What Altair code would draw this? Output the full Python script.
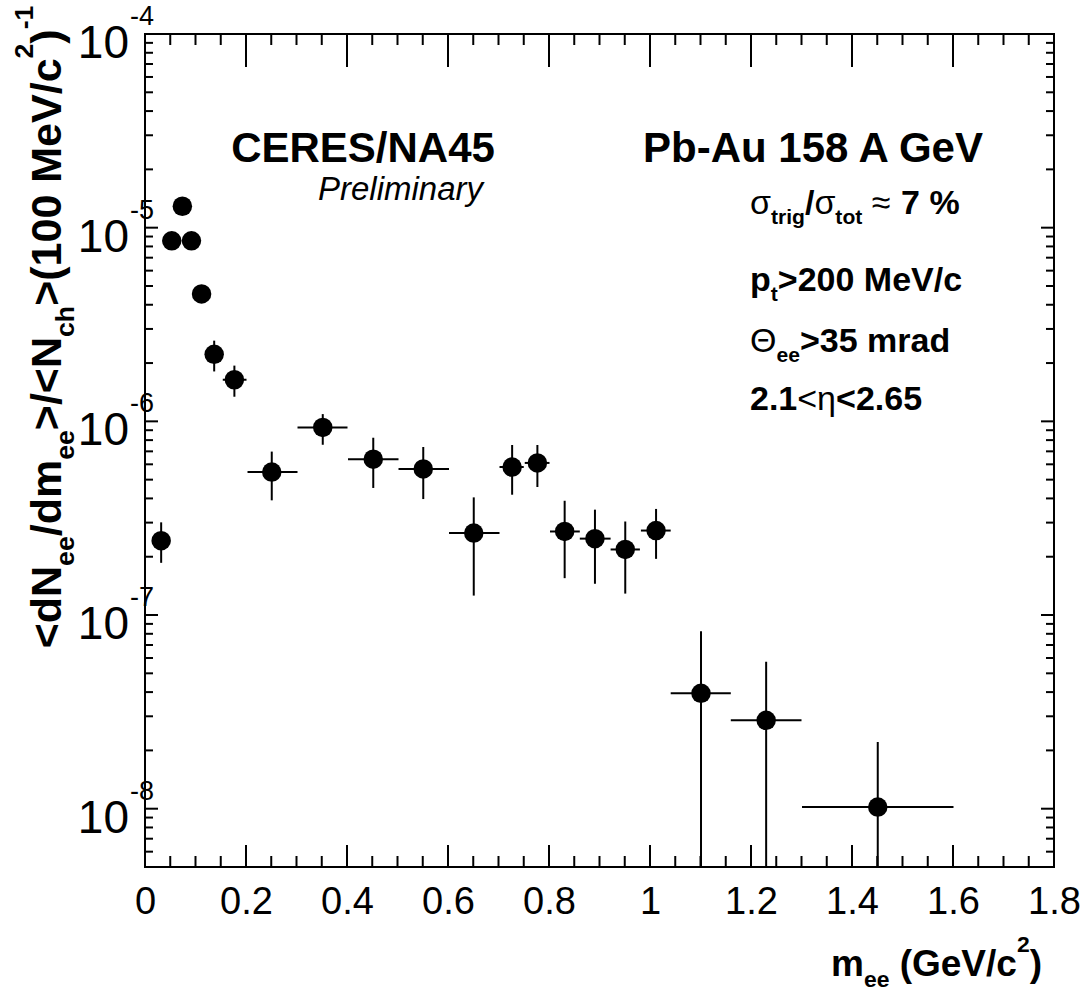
import altair as alt
import pandas as pd

# ---------------- data ----------------
mass = [0.032, 0.053, 0.074, 0.092, 0.112, 0.137, 0.177, 0.251, 0.352, 0.452, 0.551,
        0.651, 0.727, 0.777, 0.831, 0.891, 0.951, 1.012, 1.101, 1.230, 1.451]
mass_lo = [0.022, 0.045, 0.065, 0.084, 0.103, 0.122, 0.154, 0.203, 0.302, 0.402, 0.502,
           0.602, 0.702, 0.752, 0.802, 0.861, 0.922, 0.982, 1.041, 1.160, 1.301]
mass_hi = [0.042, 0.062, 0.083, 0.101, 0.121, 0.152, 0.201, 0.302, 0.401, 0.502, 0.602,
           0.702, 0.750, 0.801, 0.861, 0.922, 0.980, 1.041, 1.160, 1.300, 1.601]
yld = [2.42e-7, 8.55e-6, 1.29e-5, 8.55e-6, 4.55e-6, 2.22e-6, 1.64e-6, 5.47e-7, 9.30e-7,
       6.38e-7, 5.68e-7, 2.65e-7, 5.81e-7, 6.10e-7, 2.70e-7, 2.48e-7, 2.18e-7, 2.73e-7,
       3.94e-8, 2.86e-8, 1.02e-8]
yld_lo = [1.86e-7, 8.2e-6, 1.24e-5, 8.2e-6, 4.35e-6, 1.81e-6, 1.34e-6, 3.91e-7, 7.57e-7,
          4.53e-7, 3.97e-7, 1.26e-7, 4.18e-7, 4.58e-7, 1.55e-7, 1.45e-7, 1.29e-7, 1.95e-7,
          1e-12, 1e-12, 1e-12]
yld_hi = [3.01e-7, 8.9e-6, 1.34e-5, 8.9e-6, 4.75e-6, 2.61e-6, 1.94e-6, 6.98e-7, 1.09e-6,
          8.23e-7, 7.37e-7, 4.05e-7, 7.55e-7, 7.55e-7, 3.89e-7, 3.50e-7, 3.04e-7, 3.53e-7,
          8.24e-8, 5.73e-8, 2.21e-8]

x_major = [0, 0.2, 0.4, 0.6, 0.8, 1.0, 1.2, 1.4, 1.6, 1.8]
x_minor = [round(0.05 * i, 2) for i in range(37) if i % 4 != 0]
y_major = [1e-4, 1e-5, 1e-6, 1e-7, 1e-8]
y_major_exp = ["-4", "-5", "-6", "-7", "-8"]
y_minor = [m * 10.0 ** k for k in range(-9, -4) for m in range(2, 10)
           if 4.99e-9 <= m * 10.0 ** k <= 1e-4]

W, H = 909, 833
FONT = "Liberation Sans"

df = pd.DataFrame({"mass": mass, "mass_lo": mass_lo, "mass_hi": mass_hi,
                   "yld": yld, "yld_lo": yld_lo, "yld_hi": yld_hi})

xs = alt.Scale(domain=[0, 1.8], nice=False, zero=False)
ys = alt.Scale(type="log", domain=[5e-9, 1e-4], nice=False)

base = alt.Chart(df)
xaxis = alt.Axis(values=x_major, format="~g", ticks=False, domain=False, grid=False,
                 labelFontSize=38, labelFont=FONT, labelColor="black", labelPadding=16,
                 labelFlush=False, labelOverlap=False, labelBound=False, title=None)

points = base.mark_circle(size=380, color="black", opacity=1).encode(
    x=alt.X("mass:Q", scale=xs, axis=xaxis),
    y=alt.Y("yld:Q", scale=ys, axis=None),
)
vbars = base.mark_rule(color="black", strokeWidth=2, clip=True).encode(
    x="mass:Q", y="yld_lo:Q", y2="yld_hi:Q")
hbars = base.mark_rule(color="black", strokeWidth=2, clip=True).encode(
    x="mass_lo:Q", x2="mass_hi:Q", y="yld:Q")

# ---------------- ticks (inward, ROOT style) ----------------
dxM = pd.DataFrame({"t": x_major})
dxm = pd.DataFrame({"t": x_minor})
dyM = pd.DataFrame({"t": y_major})
dym = pd.DataFrame({"t": y_minor})

def xt(d, y0, y1):
    return alt.Chart(d).mark_rule(color="black", strokeWidth=2).encode(
        x=alt.X("t:Q", scale=xs), y=alt.value(y0), y2=alt.value(y1))

def yt(d, x0, x1):
    return alt.Chart(d).mark_rule(color="black", strokeWidth=2).encode(
        y=alt.Y("t:Q", scale=ys), x=alt.value(x0), x2=alt.value(x1))

ticks = [xt(dxM, H, H - 22), xt(dxm, H, H - 11), xt(dxM, 0, 33), xt(dxm, 0, 11),
         yt(dyM, 0, 13), yt(dym, 0, 8), yt(dyM, W, W - 13), yt(dym, W, W - 8)]

# ---------------- y tick labels 10^n ----------------
dlab = pd.DataFrame({"t": y_major, "base": ["10"] * 5, "exp": y_major_exp})
ylab = alt.Chart(dlab).mark_text(font=FONT, fontSize=46, align="right", baseline="alphabetic",
                                 dy=24, color="black").encode(
    y=alt.Y("t:Q", scale=ys), x=alt.value(-16), text="base:N")
yexp = alt.Chart(dlab).mark_text(font=FONT, fontSize=27, align="left", baseline="alphabetic",
                                 dy=-9, color="black").encode(
    y=alt.Y("t:Q", scale=ys), x=alt.value(-15), text="exp:N")

# ---------------- text helpers ----------------
REG = {' ': 278, '%': 889, '(': 333, ')': 333, '-': 333, '.': 278, '/': 278, '<': 584,
       '>': 584, '≈': 584, 'σ': 617, 'Θ': 778, 'η': 556}
BOLD = {' ': 278, '%': 889, '(': 333, ')': 333, '-': 333, '.': 278, '/': 278, '<': 584,
        '>': 584, 'A': 722, 'C': 722, 'E': 667, 'G': 778, 'M': 833, 'N': 722, 'P': 667,
        'R': 722, 'S': 667, 'V': 667, 'a': 556, 'b': 611, 'c': 556, 'd': 611, 'e': 556,
        'g': 611, 'h': 611, 'i': 278, 'l': 278, 'm': 889, 'n': 611, 'o': 611, 'p': 611,
        'r': 389, 't': 333, 'u': 611, 'v': 556, 'y': 556}

def twidth(s, size, bold):
    tab = BOLD if bold else REG
    return sum(tab.get(c, 556) for c in s) / 1000.0 * size

one = pd.DataFrame({"a": [0]})

def run(pieces, x0, y0, angle=0):
    """pieces: (text, size, bold, shift) ; shift>0 = down (subscript)."""
    out, pos = [], 0.0
    for text, size, bold, shift in pieces:
        lead = len(text) - len(text.lstrip(" "))
        pos += twidth(" " * lead, size, bold)
        body = text.lstrip(" ")
        if angle == 0:
            px, py = x0 + pos, y0 + shift
        else:
            px, py = x0 + shift, y0 - pos
        out.append(alt.Chart(one).mark_text(
            text=body, font=FONT, fontSize=size, fontWeight="bold" if bold else "normal",
            align="left", baseline="alphabetic", angle=angle, color="black").encode(
            x=alt.value(px), y=alt.value(py)))
        pos += twidth(body, size, bold)
    return out

def total(pieces):
    return sum(twidth(t, s, b) for t, s, b, _ in pieces)

# right-side block
S = 34
sub, sh = 0.62 * S, 0.3 * S
line1 = [("σ", S, False, 0), ("trig", sub, True, sh), ("/", S, True, 0), ("σ", S, False, 0),
         ("tot", sub, True, sh), (" ≈", S, False, 0), (" 7 %", S, True, 0)]
line2 = [("p", S, True, 0), ("t", sub, True, sh), (">200 MeV/c", S, True, 0)]
line3 = [("Θ", S, False, 0), ("ee", sub, True, sh), (">35 mrad", S, True, 0)]
line4 = [("2.1", S, True, 0), ("<", S, False, 0), ("η", S, False, 0), ("<2.65", S, True, 0)]
texts = []
for ln, yb in zip([line1, line2, line3, line4], [180, 257, 318, 376]):
    texts += run(ln, 605, yb)

# x title
XS = 37
xt_p = [("m", XS, True, 0), ("ee", 0.62 * XS, True, 0.3 * XS), (" (GeV/c", XS, True, 0),
        ("2", 0.62 * XS, True, -0.65 * XS), (")", XS, True, 0)]
texts += run(xt_p, 686, 942)

# y title (rotated)
YS = 43
ysub, ysh = 0.62 * YS, 0.3 * YS
yt_p = [("<dN", YS, True, 0), ("ee", ysub, True, ysh), ("/dm", YS, True, 0), ("ee", ysub, True, ysh),
        (">/<N", YS, True, 0), ("ch", ysub, True, ysh), (">(100 MeV/c", YS, True, 0),
        ("2", ysub, True, -0.65 * YS), (")", YS, True, 0), ("-1", ysub, True, -0.65 * YS)]
texts += run(yt_p, -84, 293 + total(yt_p) / 2, angle=270)

# headline texts
texts.append(alt.Chart(one).mark_text(text="CERES/NA45", font=FONT, fontSize=42, fontWeight="bold",
                                      align="center", baseline="alphabetic", color="black").encode(
    x=alt.value(218), y=alt.value(128)))
texts.append(alt.Chart(one).mark_text(text="Pb-Au 158 A GeV", font=FONT, fontSize=42, fontWeight="bold",
                                      align="center", baseline="alphabetic", color="black").encode(
    x=alt.value(668), y=alt.value(128)))
texts.append(alt.Chart(one).mark_text(text="Preliminary", font=FONT, fontSize=33, fontStyle="italic",
                                      align="left", baseline="alphabetic", color="black").encode(
    x=alt.value(173), y=alt.value(166)))

chart = alt.layer(points, vbars, hbars, *ticks, ylab, yexp, *texts).properties(
    width=W, height=H, autosize="none",
    padding={"left": 145, "top": 34, "right": 30, "bottom": 126},
    background="white",
).configure_view(stroke="black", strokeWidth=2)

chart.save("out.html", embed_options={"renderer": "svg", "actions": False})
